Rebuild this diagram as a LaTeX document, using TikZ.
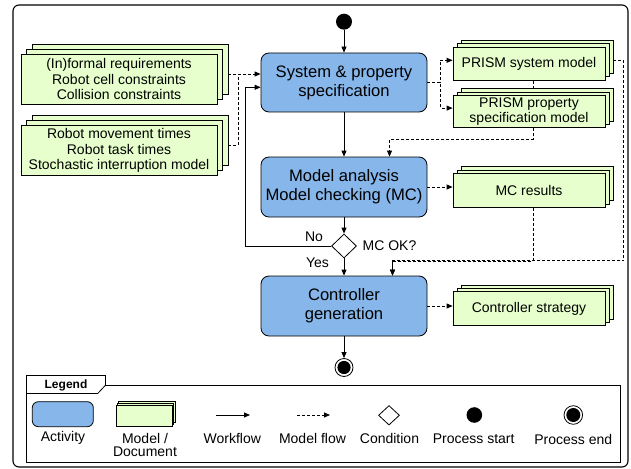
\documentclass[tikz,border=0pt]{standalone}
\usepackage{fontspec}
\setmainfont{Liberation Sans}
\usetikzlibrary{arrows.meta,shapes.geometric,shadows,calc}
\definecolor{actblue}{HTML}{86B6EA}
\definecolor{docgreen}{HTML}{E6FFCC}
\begin{document}
\begin{tikzpicture}[x=1pt,y=-1pt,
  act/.style={draw, fill=actblue, rounded corners=8pt, minimum width=166pt, minimum height=59pt,
    align=center, font=\fontsize{16.6}{19}\selectfont, line width=0.8pt, inner sep=0pt},
  doc/.style={draw, fill=docgreen, align=center, font=\fontsize{14}{15.5}\selectfont, line width=0.8pt, inner sep=0pt},
  bigstack/.style={double copy shadow={shadow xshift=5.5pt, shadow yshift=5pt, fill=docgreen, draw=black, line width=0.8pt}},
  smallstack/.style={double copy shadow={shadow xshift=4pt, shadow yshift=3.4pt, fill=docgreen, draw=black, line width=0.8pt}},
  tinystack/.style={double copy shadow={shadow xshift=1.2pt, shadow yshift=2pt, fill=docgreen, draw=black, line width=0.8pt}},
  cond/.style={diamond, draw, fill=white, line width=0.8pt, inner sep=0pt},
  lbl/.style={font=\fontsize{14}{15}\selectfont, inner sep=0pt, align=center},
  wf/.style={line width=0.8pt, -{Triangle[length=6pt,width=5pt]}},
  mf/.style={wf, dash pattern=on 3pt off 2pt},
  mline/.style={line width=0.8pt, dash pattern=on 3pt off 2pt}]
\useasboundingbox (0,0) rectangle (631,468);
% outer frame
\draw[line width=1.1pt, rounded corners=6pt] (13,5) rectangle (628,467);

% activities
\node[act] (spec) at (344,82.5) {System \& property\\specification};
\node[act, minimum height=60pt] (mc) at (344,187) {Model analysis\\Model checking (MC)};
\node[act, minimum height=60pt] (cg) at (344,306) {Controller\\generation};
\node[circle, fill=black, minimum size=16pt, inner sep=0pt] (start) at (344,21.7) {};
\node[cond, minimum width=25pt, minimum height=24pt] (ok) at (344,246) {};
\node[circle, draw, fill=white, line width=0.8pt, minimum size=18pt, inner sep=0pt] (end) at (344,367.5) {};
\fill (end.center) circle (6.6pt);

% documents
\node[doc, bigstack, minimum width=196pt, minimum height=50pt] (req) at (119,79)
  {(In)formal requirements\\Robot cell constraints\\Collision constraints};
\node[doc, bigstack, minimum width=196pt, minimum height=50pt] (times) at (119,150.5)
  {Robot movement times\\Robot task times\\Stochastic interruption model};
\node[doc, smallstack, minimum width=152pt, minimum height=33pt] (psm) at (529,63.7) {PRISM system model};
\node[doc, smallstack, minimum width=152pt, minimum height=32pt, font=\fontsize{14}{14.5}\selectfont] (pps) at (529,111.7)
  {PRISM property\\specification model};
\node[doc, smallstack, minimum width=152pt, minimum height=34pt] (mcr) at (529,190.5) {MC results};
\node[doc, smallstack, minimum width=152pt, minimum height=34pt] (cs) at (529,308.8) {Controller strategy};

% labels at the condition
\node[lbl] (nol) at (314,236.7) {No};
\node[lbl] (yesl) at (317.5,262.7) {Yes};
\node[lbl, anchor=west] (okl) at (362.5,246) {MC OK?};

% workflow
\draw[wf] (start) -- (spec);
\draw[wf] (spec) -- (mc);
\draw[wf] (mc) -- (ok);
\draw[wf] (ok) -- (cg);
\draw[wf] (cg) -- (end);
\draw[wf] (ok.west) -- ++(-85.8,0) |- ([shift={(0,4.8)}]spec.west);

% model flow
\coordinate (reqo) at ([shift={(11,-5)}]req.east);
\coordinate (timeso) at ([shift={(11,-5)}]times.east);
\draw[mf] (reqo) -- (reqo -| spec.west);
\draw[mline] (timeso) -| ($(reqo)+(9.5,0)$);
\draw[mf] (spec.east) -- ++(13,0) |- ([shift={(0,-3.4)}]psm.west);
\draw[mf] (spec.east) -- ++(13,0) |- ([shift={(0,-3.6)}]pps.west);
\draw[mline] ([shift={(4,0)}]psm.south) -- ([shift={(4,-6.8)}]pps.north);
\draw[mf] ([shift={(4,0)}]pps.south) -- ++(0,11.3) -| ([shift={(45.5,0)}]mc.north);
\draw[mf] (mc.east) -- (mc.east -| mcr.west);
\draw[mf] ([shift={(4,0)}]mcr.south) -- ++(0,53.4) -| ([shift={(48.5,0)}]cg.north);
\draw[mf] ([shift={(8,-3.4)}]psm.east) -- ++(10.3,0) -- ++(0,200.5) -| ([shift={(48.5,0)}]cg.north);
\draw[mf] (cg.east) -- (cg.east -| cs.west);

% legend frame
\draw[line width=0.8pt] (26.7,375.7) -- (105.7,375.7) -- (105.7,385) -- (620,385) -- (620,462.7) -- (26.7,462.7) -- cycle;
\draw[line width=0.8pt] (26.7,393.5) -- (97.7,393.5) -- (105.7,385);
\node[font=\bfseries\fontsize{12}{14}\selectfont, inner sep=0pt] (legt) at (66,385) {Legend};

% legend items
\node[draw, fill=actblue, rounded corners=6pt, minimum width=61pt, minimum height=25pt, line width=0.8pt] (lact) at (62.8,414.2) {};
\node[doc, tinystack, minimum width=56.7pt, minimum height=21pt] (ldoc) at (144.3,416.2) {};
\coordinate (lwfa) at (216,415);
\coordinate (lwfb) at (250,415);
\draw[wf] (lwfa) -- (lwfb);
\coordinate (lmfa) at (297,415);
\coordinate (lmfb) at (330,415);
\draw[mf] (lmfa) -- (lmfb);
\node[cond, minimum width=21pt, minimum height=19.5pt] (lcond) at (389,415.3) {};
\node[circle, fill=black, minimum size=15.6pt, inner sep=0pt] (lstart) at (474.3,415) {};
\node[circle, draw, fill=white, line width=0.8pt, minimum size=18.6pt, inner sep=0pt] (lend) at (573.3,415) {};
\fill (lend.center) circle (7pt);

\node[lbl] (lactl) at (63,438.3) {Activity};
\node[lbl, font=\fontsize{14}{13.5}\selectfont] (ldocl) at (145,445) {Model /\\Document};
\node[lbl] (lwfl) at (232.3,438.3) {Workflow};
\node[lbl] (lmfl) at (312.5,438.3) {Model flow};
\node[lbl] (lcondl) at (389.5,438.3) {Condition};
\node[lbl] (lstartl) at (473.7,438.3) {Process start};
\node[lbl] (lendl) at (573.3,439) {Process end};
\end{tikzpicture}
\end{document}
